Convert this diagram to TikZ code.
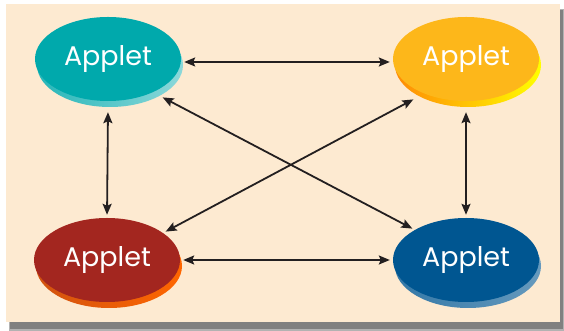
\documentclass[tikz,border=0pt]{standalone}
\usepackage{fontspec}
\setmainfont{Poppins}
\usetikzlibrary{shapes,arrows.meta,shadows}

\definecolor{paper}{RGB}{253,234,209}
\definecolor{ink}{RGB}{35,31,32}
\definecolor{tealc}{RGB}{0,169,172}
\definecolor{orangec}{RGB}{253,183,26}
\definecolor{redc}{RGB}{163,38,31}
\definecolor{bluec}{RGB}{0,86,145}

\begin{document}
\begin{tikzpicture}[x=1pt,y=1pt,
  applet/.style={ellipse, minimum width=146pt, minimum height=84pt, inner sep=0pt,
    text=white, font=\fontsize{27}{30}\selectfont},
  rim/.style={general shadow={shadow xshift=2pt, shadow yshift=-6pt, #1}},
  link/.style={line width=1.8pt, draw=ink,
    {Stealth[length=11pt,width=9pt,inset=2pt]}-{Stealth[length=11pt,width=9pt,inset=2pt]},
    shorten <=3pt, shorten >=3pt}]
\useasboundingbox (0,0) rectangle (564,331);

% card with its shadow
\fill[black!30] (9,0) rectangle (564,322);
\fill[black!50] (10,2) rectangle (563,321);
\fill[paper] (6,9) rectangle (560,327);

\node[applet, fill=tealc, rim={left color=tealc!85!white, right color=tealc!45!white}] (tl) at (108,272) {Applet};
\node[applet, fill=orangec, rim={left color=orange!80!orangec, right color=yellow}] (tr) at (466,272) {Applet};
\node[applet, fill=redc, rim={left color=redc!50!orange, right color=orange!80!red}] (bl) at (107,71) {Applet};
\node[applet, fill=bluec, rim={left color=bluec!80!white, right color=bluec!60!white}] (br) at (466,71) {Applet};

\draw[link] ([yshift=-3pt]tl.east) -- ([yshift=-3pt]tr.west);
\draw[link] (bl.east) -- (br.west);
\draw[link] ([yshift=-8pt]tl.south) -- (bl.north);
\draw[link] ([yshift=-8pt]tr.south) -- (br.north);
\draw[link] ([shift={(52pt,-37pt)}]tl.center) -- ([shift={(-51pt,30pt)}]br.center);
\draw[link] ([shift={(-50pt,-39pt)}]tr.center) -- ([shift={(56pt,27pt)}]bl.center);
\end{tikzpicture}
\end{document}
